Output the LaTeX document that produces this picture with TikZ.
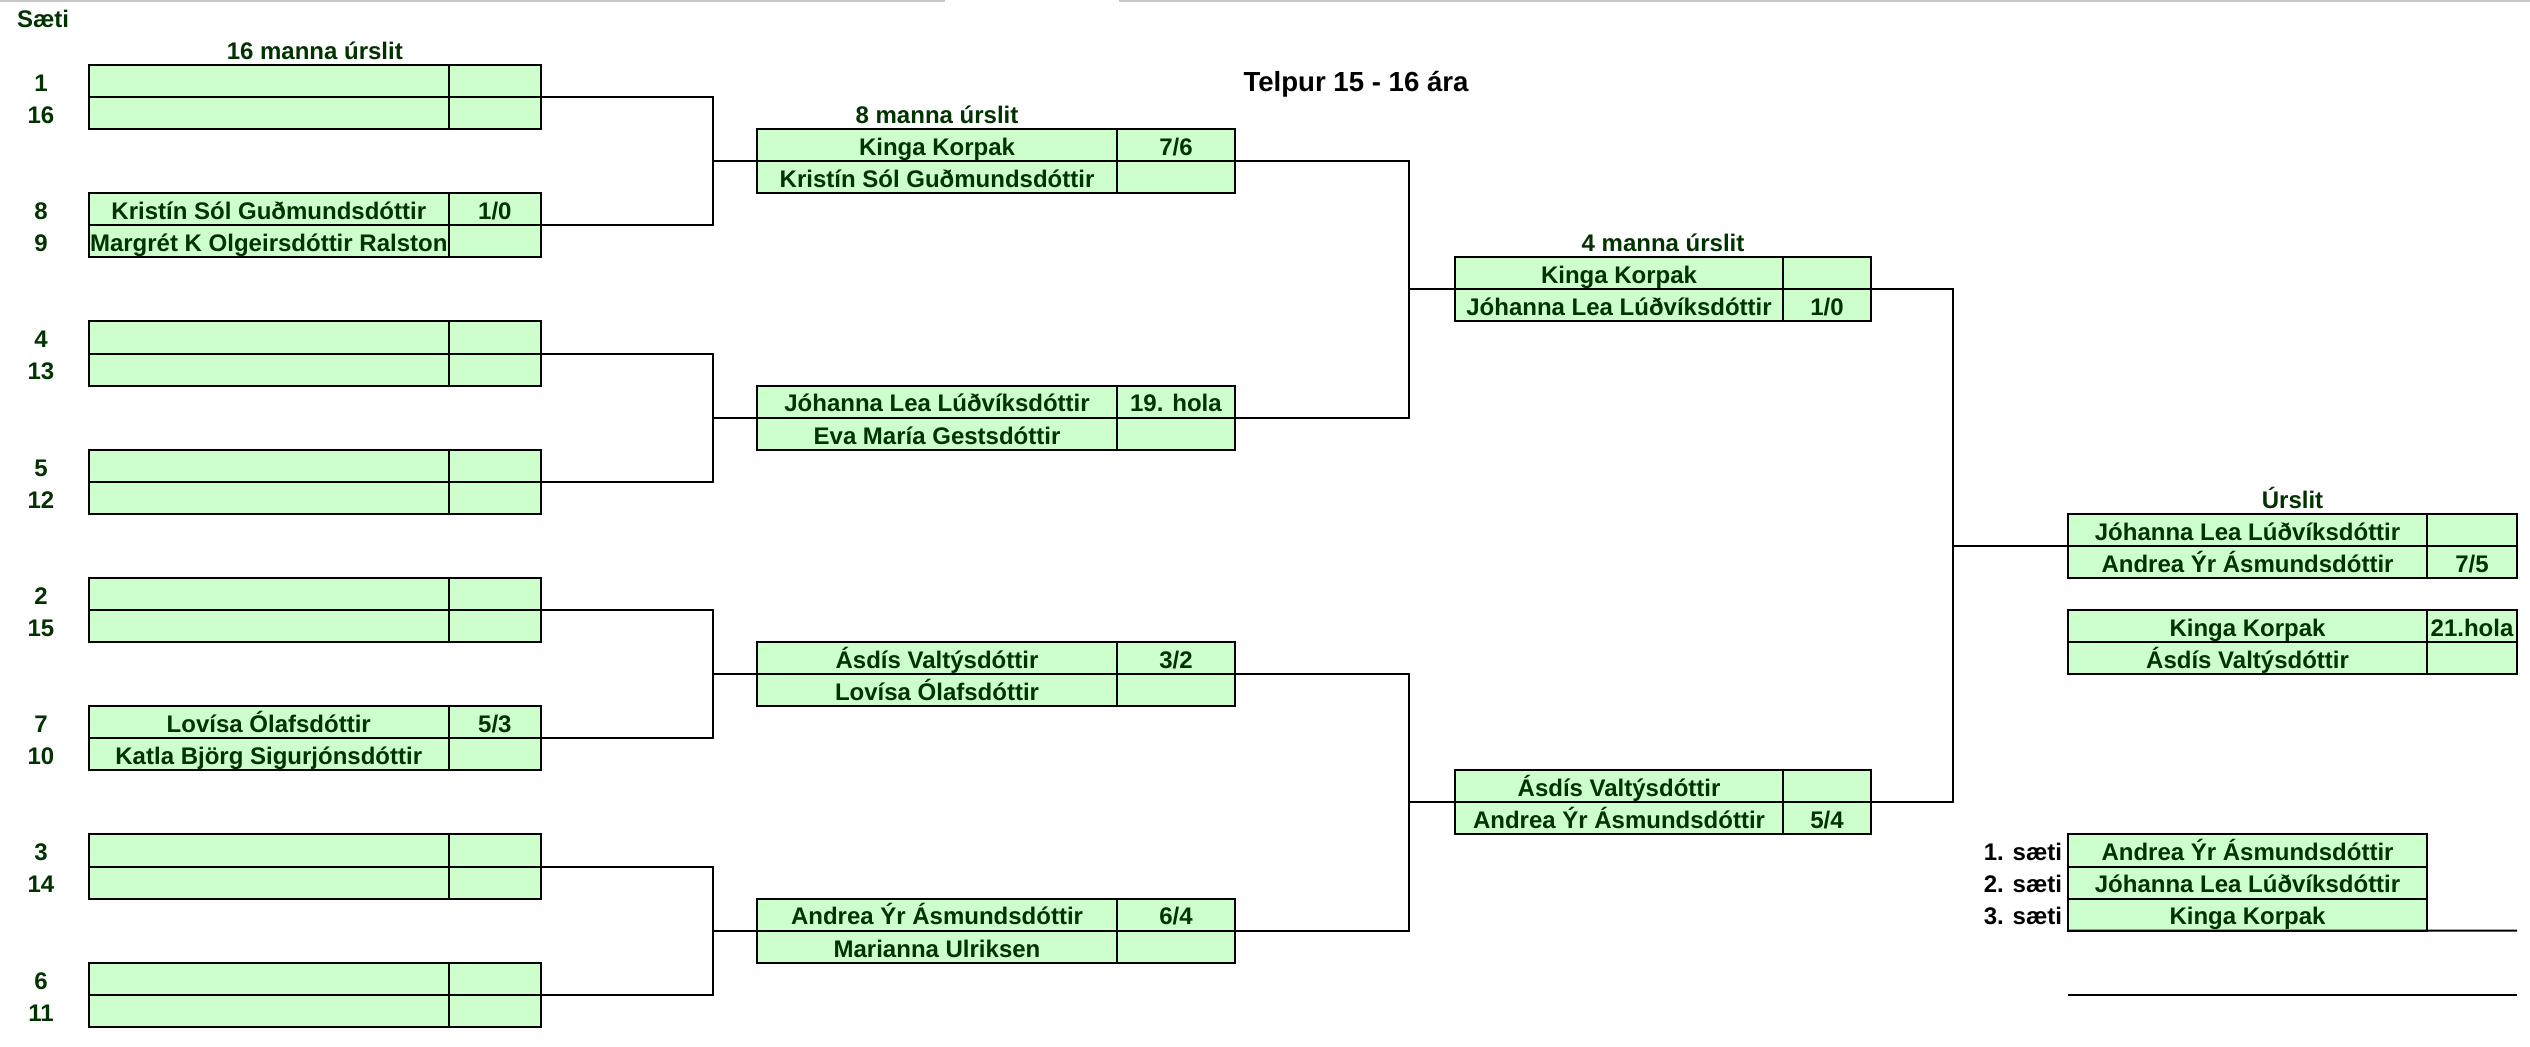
\documentclass[tikz,border=0pt]{standalone}
\usepackage{fontspec}
\setmainfont{Liberation Sans}
\definecolor{cellgreen}{HTML}{CCFFCC}
\definecolor{txtgreen}{HTML}{003300}
\tikzset{
  cellbox/.style={draw=black, line width=0.6pt, fill=cellgreen, anchor=north west,
    inner sep=0pt, outer sep=0pt, minimum height=9.618pt, text height=6.2pt, text depth=0pt,
    text=txtgreen, font=\fontsize{7.2}{8}\selectfont\bfseries},
  lbl/.style={inner sep=0pt, outer sep=0pt, minimum height=9.618pt, text height=6.2pt, text depth=0pt,
    text=txtgreen, font=\fontsize{7.2}{8}\selectfont\bfseries},
  place/.style={lbl, text=black, anchor=east},
  link/.style={draw=black, line width=0.6pt},
  topline/.style={draw=gray!45, line width=0.7pt},
}
% #1 name, #2 x-left, #3 name width, #4 score width, #5 row, #6 n1, #7 s1, #8 n2, #9 s2
\newcommand\matchbox[9]{%
  \node[cellbox, minimum width={#3*0.3pt}] (#1n1) at (#2,#5) {#6};
  \node[cellbox, minimum width={#4*0.3pt}] (#1s1) at (#1n1.north east) {#7};
  \node[cellbox, minimum width={#3*0.3pt}] (#1n2) at (#1n1.south west) {#8};
  \node[cellbox, minimum width={#4*0.3pt}] (#1s2) at (#1n2.north east) {#9};
}
\begin{document}
\begin{tikzpicture}
\useasboundingbox (0pt,0pt) rectangle (759pt,-313.8pt);
\fill[white] (0pt,0pt) rectangle (759pt,-313.8pt);
\coordinate (g1) at (0pt,-0.35pt);
\coordinate (g2) at (283.5pt,-0.35pt);
\coordinate (g3) at (335.7pt,-0.35pt);
\coordinate (g4) at (759pt,-0.35pt);
\draw[topline] (g1) -- (g2);
\draw[topline] (g3) -- (g4);
\begin{scope}[x=0.3pt, y=-9.618pt, yshift=-19.5pt]
  % headings
  \node[lbl, anchor=west] (saeti) at (17,-1.5) {Sæti};
  \node[lbl] (h16) at (314.8,-0.5) {16 manna úrslit};
  \node[lbl] (h8) at (937,1.5) {8 manna úrslit};
  \node[lbl] (h4) at (1663,5.5) {4 manna úrslit};
  \node[lbl] (hf) at (2292.5,13.5) {Úrslit};
  \node[anchor=base, inner sep=0pt, font=\fontsize{8.28}{9}\selectfont\bfseries, text=black] (title) at (1356,0.833) {Telpur 15 - 16 ára};
  % seat numbers
  \foreach \r/\s in {0/1,1/16,4/8,5/9,8/4,9/13,12/5,13/12,16/2,17/15,20/7,21/10,24/3,25/14,28/6,29/11}{
    \node[lbl] (seat\s) at (41,\r+0.5) {\s};
  }
  % round of 16
  \matchbox{pa}{88.7}{360.1}{92.1}{0}{}{}{}{}
  \matchbox{pb}{88.7}{360.1}{92.1}{4}{Kristín Sól Guðmundsdóttir}{1/0}{\makebox[0pt]{Margrét K Olgeirsdóttir Ralston}}{}
  \matchbox{pc}{88.7}{360.1}{92.1}{8}{}{}{}{}
  \matchbox{pd}{88.7}{360.1}{92.1}{12}{}{}{}{}
  \matchbox{pe}{88.7}{360.1}{92.1}{16}{}{}{}{}
  \matchbox{pf}{88.7}{360.1}{92.1}{20}{Lovísa Ólafsdóttir}{5/3}{Katla Björg Sigurjónsdóttir}{}
  \matchbox{pg}{88.7}{360.1}{92.1}{24}{}{}{}{}
  \matchbox{ph}{88.7}{360.1}{92.1}{28}{}{}{}{}
  % quarter finals
  \matchbox{qa}{757.2}{359.6}{118.2}{2}{Kinga Korpak}{7/6}{Kristín Sól Guðmundsdóttir}{}
  \matchbox{qb}{757.2}{359.6}{118.2}{10}{Jóhanna Lea Lúðvíksdóttir}{19. hola}{Eva María Gestsdóttir}{}
  \matchbox{qc}{757.2}{359.6}{118.2}{18}{Ásdís Valtýsdóttir}{3/2}{Lovísa Ólafsdóttir}{}
  \matchbox{qd}{757.2}{359.6}{118.2}{26}{Andrea Ýr Ásmundsdóttir}{6/4}{Marianna Ulriksen}{}
  % semi finals
  \matchbox{sa}{1455}{328}{88}{6}{Kinga Korpak}{}{Jóhanna Lea Lúðvíksdóttir}{1/0}
  \matchbox{sb}{1455}{328}{88}{22}{Ásdís Valtýsdóttir}{}{Andrea Ýr Ásmundsdóttir}{5/4}
  % final and bronze
  \matchbox{fa}{2068}{359}{90}{14}{Jóhanna Lea Lúðvíksdóttir}{}{Andrea Ýr Ásmundsdóttir}{7/5}
  \matchbox{fb}{2068}{359}{90}{17}{Kinga Korpak}{21.hola}{Ásdís Valtýsdóttir}{}
  % placings
  \node[cellbox, minimum width={359*0.3pt}] (pl1) at (2068,24) {Andrea Ýr Ásmundsdóttir};
  \node[cellbox, minimum width={359*0.3pt}] (pl2) at (pl1.south west) {Jóhanna Lea Lúðvíksdóttir};
  \node[cellbox, minimum width={359*0.3pt}] (pl3) at (pl2.south west) {Kinga Korpak};
  \node[place] (t1) at (2062,24.5) {1. sæti};
  \node[place] (t2) at (2062,25.5) {2. sæti};
  \node[place] (t3) at (2062,26.5) {3. sæti};
  \coordinate (e1) at (2517,27);
  \coordinate (e2a) at (2068,29);
  \coordinate (e2b) at (2517,29);
  \draw[link] (pl3.south west) -- (e1);
  \draw[link] (e2a) -- (e2b);
  % bracket verticals
  \coordinate (v1) at (712.5,0);
  \coordinate (v2) at (1409,0);
  \coordinate (v3) at (1953,0);
  % round of 16 -> quarter
  \draw[link] (pas1.south east) -| (v1 |- pbs1.south east) -- (pbs1.south east);
  \draw[link] (qan1.south west) -- (qan1.south west -| v1);
  \draw[link] (pcs1.south east) -| (v1 |- pds1.south east) -- (pds1.south east);
  \draw[link] (qbn1.south west) -- (qbn1.south west -| v1);
  \draw[link] (pes1.south east) -| (v1 |- pfs1.south east) -- (pfs1.south east);
  \draw[link] (qcn1.south west) -- (qcn1.south west -| v1);
  \draw[link] (pgs1.south east) -| (v1 |- phs1.south east) -- (phs1.south east);
  \draw[link] (qdn1.south west) -- (qdn1.south west -| v1);
  % quarter -> semi
  \draw[link] (qas1.south east) -| (v2 |- qbs1.south east) -- (qbs1.south east);
  \draw[link] (san1.south west) -- (san1.south west -| v2);
  \draw[link] (qcs1.south east) -| (v2 |- qds1.south east) -- (qds1.south east);
  \draw[link] (sbn1.south west) -- (sbn1.south west -| v2);
  % semi -> final
  \draw[link] (sas1.south east) -| (v3 |- sbs1.south east) -- (sbs1.south east);
  \draw[link] (fan1.south west) -- (fan1.south west -| v3);
\end{scope}
\end{tikzpicture}
\end{document}
